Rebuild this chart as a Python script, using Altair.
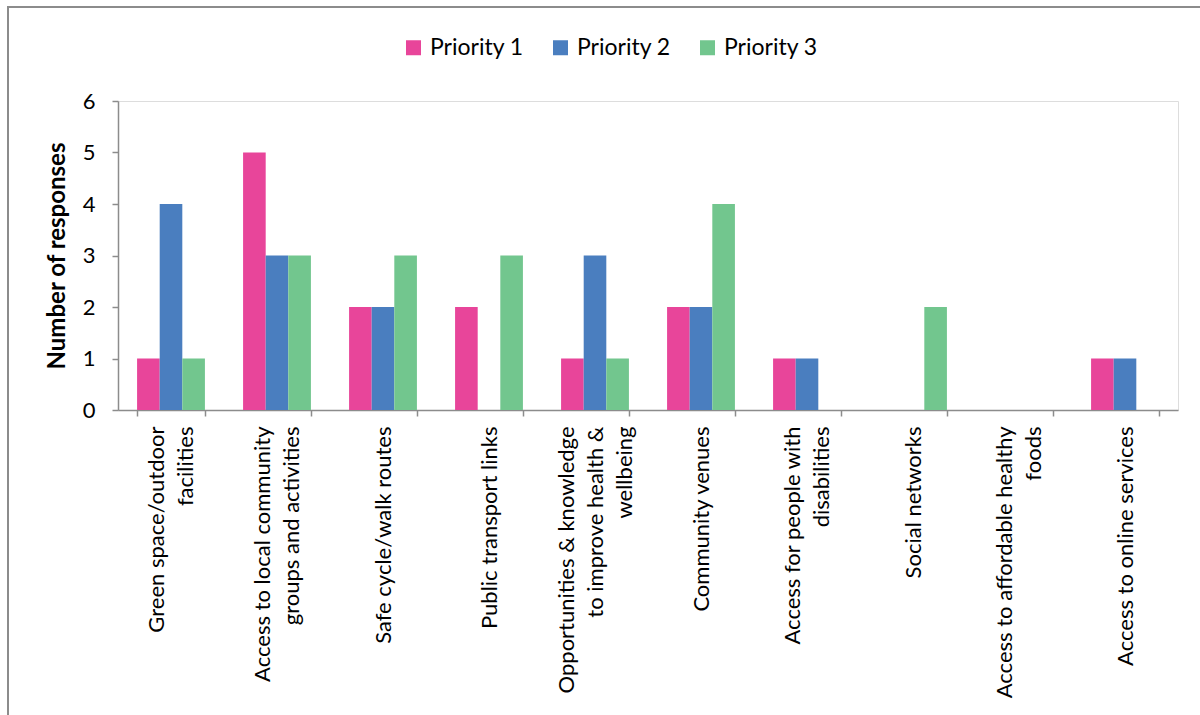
import altair as alt
import pandas as pd

categories = [
    "Green space/outdoor|facilities",
    "Access to local community|groups and activities",
    "Safe cycle/walk routes",
    "Public transport links",
    "Opportunities & knowledge|to improve health &|wellbeing",
    "Community venues",
    "Access for people with|disabilities",
    "Social networks",
    "Access to affordable healthy|foods",
    "Access to online services",
]
series = ["Priority 1", "Priority 2", "Priority 3"]
priority1 = [1, 5, 2, 2, 1, 2, 1, 0, 0, 1]
priority2 = [4, 3, 2, 0, 3, 2, 1, 0, 0, 1]
priority3 = [1, 3, 3, 3, 1, 4, 0, 2, 0, 0]
colors = ["#E8459A", "#4A7EBF", "#72C68E"]
y_ticks = [0, 1, 2, 3, 4, 5, 6]

rows = []
for name, vals in zip(series, [priority1, priority2, priority3]):
    for c, v in zip(categories, vals):
        rows.append({"Category": c, "Series": name, "Value": v})
df = pd.DataFrame(rows)

FONT = "Lato"
AXIS_GREY = "#8C8C8C"
LINE_H = 29

label_offset = {
    "condition": [
        {"test": "length(split(datum.value, '|')) == 3", "value": -LINE_H},
        {"test": "length(split(datum.value, '|')) == 2", "value": -LINE_H / 2},
    ],
    "value": 0,
}

bars = alt.Chart(df).mark_bar().encode(
    x=alt.X(
        "Category:N",
        sort=categories,
        scale=alt.Scale(paddingInner=0.36, paddingOuter=0.18),
        axis=alt.Axis(
            title=None,
            labelAngle=270,
            labelAlign="right",
            labelBaseline="middle",
            labelExpr="split(datum.label, '|')",
            labelFontSize=22,
            labelFont=FONT,
            labelColor="#000000",
            labelPadding=10,
            labelLineHeight=LINE_H,
            labelLimit=400,
            labelOffset=label_offset,
            tickBand="extent",
            tickSize=6,
            tickColor=AXIS_GREY,
            tickWidth=1.5,
            domainColor=AXIS_GREY,
            domainWidth=1.5,
            grid=False,
        ),
    ),
    xOffset=alt.XOffset("Series:N", sort=series),
    y=alt.Y(
        "Value:Q",
        scale=alt.Scale(domain=[0, 6], nice=False),
        axis=alt.Axis(
            title="Number of responses",
            values=y_ticks,
            titleFontSize=24,
            titleFontWeight="bold",
            titleFont=FONT,
            titleColor="#000000",
            titlePadding=13,
            labelFontSize=22,
            labelFont=FONT,
            labelColor="#000000",
            labelPadding=17,
            tickSize=6,
            tickColor=AXIS_GREY,
            tickWidth=1.5,
            domainColor=AXIS_GREY,
            domainWidth=1.5,
            grid=False,
        ),
    ),
    color=alt.Color(
        "Series:N",
        sort=series,
        scale=alt.Scale(domain=series, range=colors),
        legend=alt.Legend(
            title=None,
            orient="none",
            direction="horizontal",
            legendX=284,
            legendY=-65,
            symbolType="square",
            symbolSize=225,
            symbolStrokeWidth=0,
            labelFontSize=23,
            labelFont=FONT,
            labelColor="#000000",
            labelOffset=5,
            columnPadding=25,
        ),
    ),
)

frame_df = pd.DataFrame({"k": [0]})
frame = alt.Chart(frame_df).mark_rect(fill=None, stroke="#8C8C8C", strokeWidth=2).encode(
    x=alt.value(-110), x2=alt.value(1200), y=alt.value(-94), y2=alt.value(800)
)

chart = alt.layer(frame, bars).properties(
    width=1060,
    height=309,
    autosize=alt.AutoSizeParams(type="none"),
    padding={"left": 118, "top": 101, "right": 22, "bottom": 305},
).configure_view(stroke=None).configure(background="#ffffff")

chart.save("out.html", embed_options={"renderer": "svg", "actions": False})
